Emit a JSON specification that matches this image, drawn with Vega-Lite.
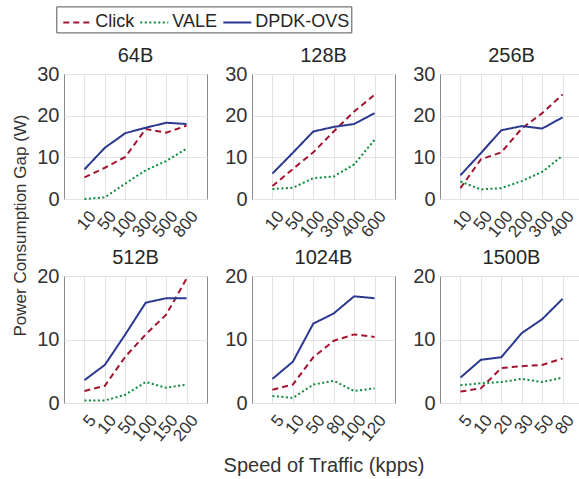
{
  "$schema": "https://vega.github.io/schema/vega-lite/v6.json",
  "padding": {"left": 10, "top": 5, "right": 0, "bottom": 0},
  "datasets": {
    "d": [
      {"panel":"64B","speed":"10","idx":1,"series":"Click","value":5.2},
      {"panel":"64B","speed":"50","idx":2,"series":"Click","value":7.5},
      {"panel":"64B","speed":"100","idx":3,"series":"Click","value":10.1},
      {"panel":"64B","speed":"300","idx":4,"series":"Click","value":16.8},
      {"panel":"64B","speed":"500","idx":5,"series":"Click","value":15.9},
      {"panel":"64B","speed":"800","idx":6,"series":"Click","value":17.6},
      {"panel":"64B","speed":"10","idx":1,"series":"VALE","value":0},
      {"panel":"64B","speed":"50","idx":2,"series":"VALE","value":0.4},
      {"panel":"64B","speed":"100","idx":3,"series":"VALE","value":3.7},
      {"panel":"64B","speed":"300","idx":4,"series":"VALE","value":6.9},
      {"panel":"64B","speed":"500","idx":5,"series":"VALE","value":9.1},
      {"panel":"64B","speed":"800","idx":6,"series":"VALE","value":12.1},
      {"panel":"64B","speed":"10","idx":1,"series":"DPDK-OVS","value":7.1},
      {"panel":"64B","speed":"50","idx":2,"series":"DPDK-OVS","value":12.3},
      {"panel":"64B","speed":"100","idx":3,"series":"DPDK-OVS","value":15.8},
      {"panel":"64B","speed":"300","idx":4,"series":"DPDK-OVS","value":17.1},
      {"panel":"64B","speed":"500","idx":5,"series":"DPDK-OVS","value":18.3},
      {"panel":"64B","speed":"800","idx":6,"series":"DPDK-OVS","value":18.0},

      {"panel":"128B","speed":"10","idx":1,"series":"Click","value":3.1},
      {"panel":"128B","speed":"50","idx":2,"series":"Click","value":7.2},
      {"panel":"128B","speed":"100","idx":3,"series":"Click","value":11.2},
      {"panel":"128B","speed":"300","idx":4,"series":"Click","value":16.2},
      {"panel":"128B","speed":"400","idx":5,"series":"Click","value":21.0},
      {"panel":"128B","speed":"600","idx":6,"series":"Click","value":25.0},
      {"panel":"128B","speed":"10","idx":1,"series":"VALE","value":2.4},
      {"panel":"128B","speed":"50","idx":2,"series":"VALE","value":2.7},
      {"panel":"128B","speed":"100","idx":3,"series":"VALE","value":5.0},
      {"panel":"128B","speed":"300","idx":4,"series":"VALE","value":5.4},
      {"panel":"128B","speed":"400","idx":5,"series":"VALE","value":8.3},
      {"panel":"128B","speed":"600","idx":6,"series":"VALE","value":14.2},
      {"panel":"128B","speed":"10","idx":1,"series":"DPDK-OVS","value":6.1},
      {"panel":"128B","speed":"50","idx":2,"series":"DPDK-OVS","value":11.1},
      {"panel":"128B","speed":"100","idx":3,"series":"DPDK-OVS","value":16.2},
      {"panel":"128B","speed":"300","idx":4,"series":"DPDK-OVS","value":17.3},
      {"panel":"128B","speed":"400","idx":5,"series":"DPDK-OVS","value":18.0},
      {"panel":"128B","speed":"600","idx":6,"series":"DPDK-OVS","value":20.6},

      {"panel":"256B","speed":"10","idx":1,"series":"Click","value":2.6},
      {"panel":"256B","speed":"50","idx":2,"series":"Click","value":9.5},
      {"panel":"256B","speed":"100","idx":3,"series":"Click","value":11.2},
      {"panel":"256B","speed":"200","idx":4,"series":"Click","value":16.9},
      {"panel":"256B","speed":"300","idx":5,"series":"Click","value":20.6},
      {"panel":"256B","speed":"400","idx":6,"series":"Click","value":25.1},
      {"panel":"256B","speed":"10","idx":1,"series":"VALE","value":4.2},
      {"panel":"256B","speed":"50","idx":2,"series":"VALE","value":2.3},
      {"panel":"256B","speed":"100","idx":3,"series":"VALE","value":2.6},
      {"panel":"256B","speed":"200","idx":4,"series":"VALE","value":4.3},
      {"panel":"256B","speed":"300","idx":5,"series":"VALE","value":6.5},
      {"panel":"256B","speed":"400","idx":6,"series":"VALE","value":10.4},
      {"panel":"256B","speed":"10","idx":1,"series":"DPDK-OVS","value":5.7},
      {"panel":"256B","speed":"50","idx":2,"series":"DPDK-OVS","value":11.0},
      {"panel":"256B","speed":"100","idx":3,"series":"DPDK-OVS","value":16.5},
      {"panel":"256B","speed":"200","idx":4,"series":"DPDK-OVS","value":17.5},
      {"panel":"256B","speed":"300","idx":5,"series":"DPDK-OVS","value":16.9},
      {"panel":"256B","speed":"400","idx":6,"series":"DPDK-OVS","value":19.6},

      {"panel":"512B","speed":"5","idx":1,"series":"Click","value":1.9},
      {"panel":"512B","speed":"10","idx":2,"series":"Click","value":2.7},
      {"panel":"512B","speed":"50","idx":3,"series":"Click","value":7.3},
      {"panel":"512B","speed":"100","idx":4,"series":"Click","value":10.8},
      {"panel":"512B","speed":"150","idx":5,"series":"Click","value":13.9},
      {"panel":"512B","speed":"200","idx":6,"series":"Click","value":19.6},
      {"panel":"512B","speed":"5","idx":1,"series":"VALE","value":0.4},
      {"panel":"512B","speed":"10","idx":2,"series":"VALE","value":0.4},
      {"panel":"512B","speed":"50","idx":3,"series":"VALE","value":1.3},
      {"panel":"512B","speed":"100","idx":4,"series":"VALE","value":3.3},
      {"panel":"512B","speed":"150","idx":5,"series":"VALE","value":2.4},
      {"panel":"512B","speed":"200","idx":6,"series":"VALE","value":2.9},
      {"panel":"512B","speed":"5","idx":1,"series":"DPDK-OVS","value":3.6},
      {"panel":"512B","speed":"10","idx":2,"series":"DPDK-OVS","value":6.0},
      {"panel":"512B","speed":"50","idx":3,"series":"DPDK-OVS","value":10.8},
      {"panel":"512B","speed":"100","idx":4,"series":"DPDK-OVS","value":15.8},
      {"panel":"512B","speed":"150","idx":5,"series":"DPDK-OVS","value":16.5},
      {"panel":"512B","speed":"200","idx":6,"series":"DPDK-OVS","value":16.5},

      {"panel":"1024B","speed":"5","idx":1,"series":"Click","value":2.1},
      {"panel":"1024B","speed":"10","idx":2,"series":"Click","value":2.9},
      {"panel":"1024B","speed":"50","idx":3,"series":"Click","value":7.2},
      {"panel":"1024B","speed":"80","idx":4,"series":"Click","value":9.8},
      {"panel":"1024B","speed":"100","idx":5,"series":"Click","value":10.8},
      {"panel":"1024B","speed":"120","idx":6,"series":"Click","value":10.4},
      {"panel":"1024B","speed":"5","idx":1,"series":"VALE","value":1.1},
      {"panel":"1024B","speed":"10","idx":2,"series":"VALE","value":0.8},
      {"panel":"1024B","speed":"50","idx":3,"series":"VALE","value":2.9},
      {"panel":"1024B","speed":"80","idx":4,"series":"VALE","value":3.5},
      {"panel":"1024B","speed":"100","idx":5,"series":"VALE","value":1.9},
      {"panel":"1024B","speed":"120","idx":6,"series":"VALE","value":2.3},
      {"panel":"1024B","speed":"5","idx":1,"series":"DPDK-OVS","value":3.8},
      {"panel":"1024B","speed":"10","idx":2,"series":"DPDK-OVS","value":6.5},
      {"panel":"1024B","speed":"50","idx":3,"series":"DPDK-OVS","value":12.5},
      {"panel":"1024B","speed":"80","idx":4,"series":"DPDK-OVS","value":14.1},
      {"panel":"1024B","speed":"100","idx":5,"series":"DPDK-OVS","value":16.8},
      {"panel":"1024B","speed":"120","idx":6,"series":"DPDK-OVS","value":16.5},

      {"panel":"1500B","speed":"5","idx":1,"series":"Click","value":1.8},
      {"panel":"1500B","speed":"10","idx":2,"series":"Click","value":2.3},
      {"panel":"1500B","speed":"20","idx":3,"series":"Click","value":5.5},
      {"panel":"1500B","speed":"30","idx":4,"series":"Click","value":5.8},
      {"panel":"1500B","speed":"50","idx":5,"series":"Click","value":6.0},
      {"panel":"1500B","speed":"80","idx":6,"series":"Click","value":7.0},
      {"panel":"1500B","speed":"5","idx":1,"series":"VALE","value":2.8},
      {"panel":"1500B","speed":"10","idx":2,"series":"VALE","value":3.1},
      {"panel":"1500B","speed":"20","idx":3,"series":"VALE","value":3.3},
      {"panel":"1500B","speed":"30","idx":4,"series":"VALE","value":3.8},
      {"panel":"1500B","speed":"50","idx":5,"series":"VALE","value":3.3},
      {"panel":"1500B","speed":"80","idx":6,"series":"VALE","value":4.0},
      {"panel":"1500B","speed":"5","idx":1,"series":"DPDK-OVS","value":4.0},
      {"panel":"1500B","speed":"10","idx":2,"series":"DPDK-OVS","value":6.8},
      {"panel":"1500B","speed":"20","idx":3,"series":"DPDK-OVS","value":7.2},
      {"panel":"1500B","speed":"30","idx":4,"series":"DPDK-OVS","value":11.0},
      {"panel":"1500B","speed":"50","idx":5,"series":"DPDK-OVS","value":13.2},
      {"panel":"1500B","speed":"80","idx":6,"series":"DPDK-OVS","value":16.4}
    ]
  },
  "data": {"name": "d"},
  "columns": 3,
  "bounds": "flush",
  "spacing": {"row": 77, "column": 45},
  "resolve": {"scale": {"x": "independent", "y": "independent"}, "axis": {"x": "independent", "y": "independent"}},
  "concat": [
    {
      "title": "64B", "width": 143, "height": 125,
      "transform": [{"filter": "datum.panel === '64B'"}],
      "mark": {"type": "line", "strokeWidth": 2},
      "encoding": {
        "x": {"field": "speed", "type": "ordinal", "sort": {"field": "idx", "op": "min"}, "scale": {"type": "point", "padding": 1}, "axis": {"title": null}},
        "y": {"field": "value", "type": "quantitative", "scale": {"domain": [0, 30]}, "axis": {"values": [0, 10, 20, 30], "title": "Power Consumption Gap (W)", "titleX": -44, "titleY": 151, "titleAngle": -90, "titleAlign": "center", "titleBaseline": "middle", "titleFontSize": 17}},
        "color": {"field": "series", "type": "nominal", "title": null, "scale": {"domain": ["Click", "VALE", "DPDK-OVS"], "range": ["#a2142f", "#0e8a3a", "#2b3990"]}},
        "strokeDash": {"field": "series", "type": "nominal", "title": null, "scale": {"domain": ["Click", "VALE", "DPDK-OVS"], "range": [[6, 4], [2, 2.5], [1, 0]]}}
      }
    },
    {
      "title": "128B", "width": 143, "height": 125,
      "transform": [{"filter": "datum.panel === '128B'"}],
      "mark": {"type": "line", "strokeWidth": 2},
      "encoding": {
        "x": {"field": "speed", "type": "ordinal", "sort": {"field": "idx", "op": "min"}, "scale": {"type": "point", "padding": 1}, "axis": {"title": null}},
        "y": {"field": "value", "type": "quantitative", "scale": {"domain": [0, 30]}, "axis": {"values": [0, 10, 20, 30], "title": null}},
        "color": {"field": "series", "type": "nominal", "title": null},
        "strokeDash": {"field": "series", "type": "nominal", "title": null}
      }
    },
    {
      "title": "256B", "width": 143, "height": 125,
      "transform": [{"filter": "datum.panel === '256B'"}],
      "mark": {"type": "line", "strokeWidth": 2},
      "encoding": {
        "x": {"field": "speed", "type": "ordinal", "sort": {"field": "idx", "op": "min"}, "scale": {"type": "point", "padding": 1}, "axis": {"title": null}},
        "y": {"field": "value", "type": "quantitative", "scale": {"domain": [0, 30]}, "axis": {"values": [0, 10, 20, 30], "title": null}},
        "color": {"field": "series", "type": "nominal", "title": null},
        "strokeDash": {"field": "series", "type": "nominal", "title": null}
      }
    },
    {
      "title": "512B", "width": 143, "height": 127,
      "transform": [{"filter": "datum.panel === '512B'"}],
      "mark": {"type": "line", "strokeWidth": 2},
      "encoding": {
        "x": {"field": "speed", "type": "ordinal", "sort": {"field": "idx", "op": "min"}, "scale": {"type": "point", "padding": 1}, "axis": {"title": null}},
        "y": {"field": "value", "type": "quantitative", "scale": {"domain": [0, 20]}, "axis": {"values": [0, 10, 20], "title": null}},
        "color": {"field": "series", "type": "nominal", "title": null},
        "strokeDash": {"field": "series", "type": "nominal", "title": null}
      }
    },
    {
      "title": "1024B", "width": 143, "height": 127,
      "transform": [{"filter": "datum.panel === '1024B'"}],
      "mark": {"type": "line", "strokeWidth": 2},
      "encoding": {
        "x": {"field": "speed", "type": "ordinal", "sort": {"field": "idx", "op": "min"}, "scale": {"type": "point", "padding": 1}, "axis": {"title": "Speed of Traffic (kpps)", "titleFontSize": 20, "titleX": 71.5, "titleY": 68.5, "titleAlign": "center", "titleBaseline": "alphabetic", "titleAngle": 0}},
        "y": {"field": "value", "type": "quantitative", "scale": {"domain": [0, 20]}, "axis": {"values": [0, 10, 20], "title": null}},
        "color": {"field": "series", "type": "nominal", "title": null},
        "strokeDash": {"field": "series", "type": "nominal", "title": null}
      }
    },
    {
      "title": "1500B", "width": 143, "height": 127,
      "transform": [{"filter": "datum.panel === '1500B'"}],
      "mark": {"type": "line", "strokeWidth": 2},
      "encoding": {
        "x": {"field": "speed", "type": "ordinal", "sort": {"field": "idx", "op": "min"}, "scale": {"type": "point", "padding": 1}, "axis": {"title": null}},
        "y": {"field": "value", "type": "quantitative", "scale": {"domain": [0, 20]}, "axis": {"values": [0, 10, 20], "title": null}},
        "color": {"field": "series", "type": "nominal", "title": null},
        "strokeDash": {"field": "series", "type": "nominal", "title": null}
      }
    }
  ],
  "config": {
    "font": "Liberation Sans",
    "view": {"stroke": "#8a8a8a", "strokeWidth": 1},
    "axis": {"grid": true, "gridColor": "#e3e3e3", "domain": false, "ticks": false, "labelFontSize": 20, "labelColor": "#333333", "labelPadding": 5, "titleFontWeight": "normal", "titleColor": "#333333", "titleFont": "Liberation Sans", "labelOverlap": false, "labelBound": false, "labelFlush": false},
    "axisX": {"labelAngle": -50, "labelFontSize": 17, "labelAlign": "right", "labelBaseline": "middle", "labelPadding": 14, "labelOffset": 8},
    "title": {"fontSize": 20, "fontWeight": "normal", "color": "#262626", "baseline": "alphabetic", "offset": -2, "font": "Liberation Sans"},
    "legend": {"orient": "none", "legendX": -7.7, "legendY": -67.6, "direction": "horizontal", "strokeColor": "#555555", "padding": 1, "symbolType": "stroke", "symbolSize": 784, "symbolStrokeWidth": 2, "symbolOffset": 5, "labelFontSize": 18, "labelColor": "#262626", "labelOffset": 3, "columnPadding": 0, "labelFont": "Liberation Sans"}
  }
}
